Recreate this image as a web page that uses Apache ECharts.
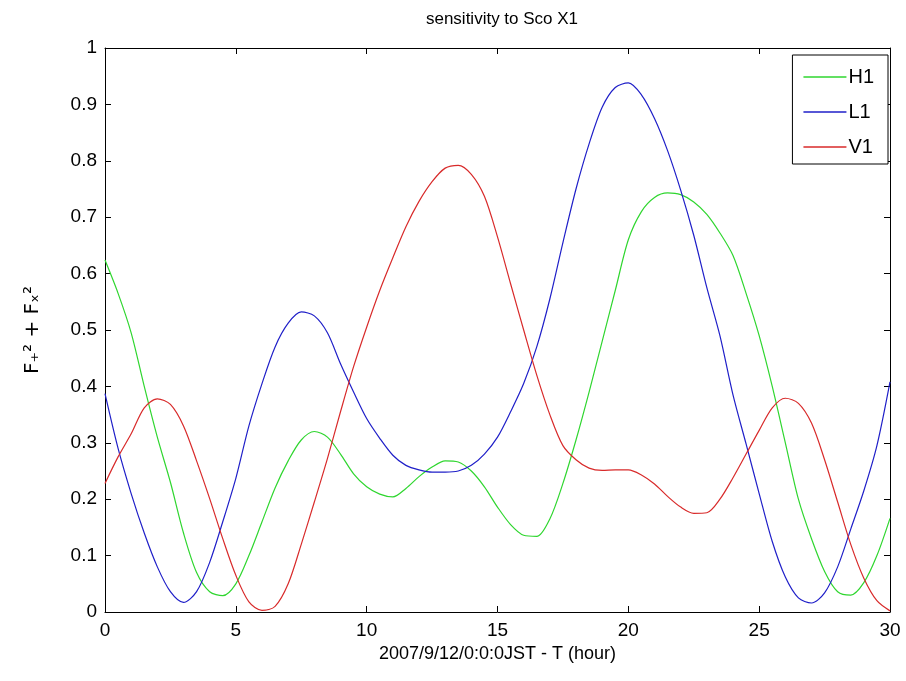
<!DOCTYPE html>
<html>
<head>
<meta charset="utf-8">
<script src="https://cdn.jsdelivr.net/npm/echarts@6/dist/echarts.min.js"></script>
<style>
  html, body { margin: 0; padding: 0; background: #fff; }
  #chart { width: 906px; height: 681px; }
</style>
</head>
<body>
<div id="chart"></div>
<script>
// hours since 2007/9/12 0:0:0 JST
const hours = [0, 0.5, 1, 1.5, 2, 2.5, 3, 3.5, 4, 4.5, 5, 5.5, 6, 6.5, 7, 7.5, 8, 8.5, 9, 9.5,
  10, 10.5, 11, 11.5, 12, 12.5, 13, 13.5, 14, 14.5, 15, 15.5, 16, 16.5, 17, 17.5, 18, 18.5, 19, 19.5,
  20, 20.5, 21, 21.5, 22, 22.5, 23, 23.5, 24, 24.5, 25, 25.5, 26, 26.5, 27, 27.5, 28, 28.5, 29, 29.5, 30];

const h1 = [0.624, 0.565, 0.495, 0.40, 0.31, 0.23, 0.14, 0.07, 0.036, 0.029, 0.05, 0.10, 0.16, 0.22, 0.268, 0.305, 0.32, 0.31, 0.28, 0.245,
  0.222, 0.209, 0.204, 0.219, 0.24, 0.257, 0.268, 0.266, 0.25, 0.222, 0.186, 0.155, 0.136, 0.134, 0.165, 0.228, 0.305, 0.39, 0.48, 0.57,
  0.66, 0.71, 0.735, 0.743, 0.74, 0.727, 0.705, 0.672, 0.632, 0.565, 0.49, 0.40, 0.30, 0.20, 0.13, 0.072, 0.036, 0.03, 0.052, 0.10, 0.166];

const l1 = [0.387, 0.29, 0.21, 0.14, 0.08, 0.036, 0.017, 0.036, 0.088, 0.16, 0.237, 0.33, 0.405, 0.47, 0.512, 0.532, 0.525, 0.495, 0.44, 0.39,
  0.343, 0.308, 0.278, 0.26, 0.252, 0.248, 0.248, 0.25, 0.26, 0.28, 0.31, 0.355, 0.405, 0.47, 0.555, 0.655, 0.75, 0.83, 0.895, 0.93,
  0.938, 0.917, 0.875, 0.818, 0.748, 0.668, 0.575, 0.49, 0.385, 0.298, 0.21, 0.125, 0.062, 0.025, 0.016, 0.034, 0.08, 0.147, 0.215, 0.295, 0.408];

const v1 = [0.228, 0.275, 0.316, 0.362, 0.378, 0.368, 0.33, 0.268, 0.201, 0.13, 0.065, 0.018, 0.003, 0.01, 0.05, 0.12, 0.195, 0.272, 0.355, 0.435,
  0.505, 0.57, 0.628, 0.683, 0.728, 0.763, 0.787, 0.792, 0.776, 0.737, 0.665, 0.582, 0.50, 0.42, 0.35, 0.295, 0.27, 0.255, 0.251, 0.252,
  0.252, 0.243, 0.227, 0.205, 0.186, 0.175, 0.176, 0.2, 0.238, 0.28, 0.322, 0.362, 0.379, 0.37, 0.335, 0.27, 0.195, 0.12, 0.06, 0.02, 0.002];

const seriesNames = ['H1', 'L1', 'V1'];
const seriesColors = ['#2fd62f', '#1f1fc8', '#d82a2a'];

function pairs(ys) {
  return hours.map((h, i) => [h, ys[i]]);
}

const font = 'Liberation Sans, Arial, sans-serif';
const black = '#000';

// box axes: ticks pointing inward on all four sides like matlab
function axisBase(extra) {
  return Object.assign({
    axisLine: { show: true, onZero: false, lineStyle: { color: black, width: 1 } },
    axisTick: { show: true, inside: true, length: 6, lineStyle: { color: black } },
    splitLine: { show: false }
  }, extra);
}

const chart = echarts.init(document.getElementById('chart'));
chart.setOption({
  backgroundColor: '#fff',
  animation: false,
  title: {
    text: 'sensitivity to Sco X1',
    left: 497, top: 6, textAlign: 'center',
    textStyle: { fontFamily: font, fontSize: 17, fontWeight: 'normal', color: black }
  },
  grid: { left: 105, right: 16, top: 48, bottom: 69 },
  legend: {
    data: seriesNames,
    orient: 'vertical',
    right: 18, top: 55,
    padding: [12, 14, 7, 11],
    icon: 'path://M0,0 L100,0 L100,3 L0,3 Z',
    itemWidth: 43, itemHeight: 1.3, itemGap: 15,
    backgroundColor: '#fff',
    borderColor: black, borderWidth: 1,
    textStyle: { fontFamily: font, fontSize: 20, color: black, padding: [0, 0, 0, -3] }
  },
  xAxis: [
    axisBase({
      type: 'value', min: 0, max: 30, interval: 5, position: 'bottom',
      name: '2007/9/12/0:0:0JST - T (hour)', nameLocation: 'middle', nameGap: 32,
      nameTextStyle: { fontFamily: font, fontSize: 18, color: black },
      axisLabel: { fontFamily: font, fontSize: 19, color: black, margin: 9 }
    }),
    axisBase({
      type: 'value', min: 0, max: 30, interval: 5, position: 'top',
      axisLabel: { show: false }
    })
  ],
  yAxis: [
    axisBase({
      type: 'value', min: 0, max: 1, interval: 0.1, position: 'left',
      name: 'F\u208A\u00B2 + F\u2093\u00B2', nameLocation: 'middle', nameGap: 62, nameRotate: 90,
      nameTextStyle: { fontFamily: 'DejaVu Sans, sans-serif', fontSize: 20, color: black },
      axisLabel: { fontFamily: font, fontSize: 19, color: black, margin: 8 }
    }),
    axisBase({
      type: 'value', min: 0, max: 1, interval: 0.1, position: 'right',
      axisLabel: { show: false }
    })
  ],
  series: [h1, l1, v1].map((ys, i) => ({
    name: seriesNames[i],
    type: 'line',
    data: pairs(ys),
    smooth: 0.3,
    symbol: 'none',
    lineStyle: { color: seriesColors[i], width: 1.2 },
    itemStyle: { color: seriesColors[i] }
  }))
});
</script>
</body>
</html>
